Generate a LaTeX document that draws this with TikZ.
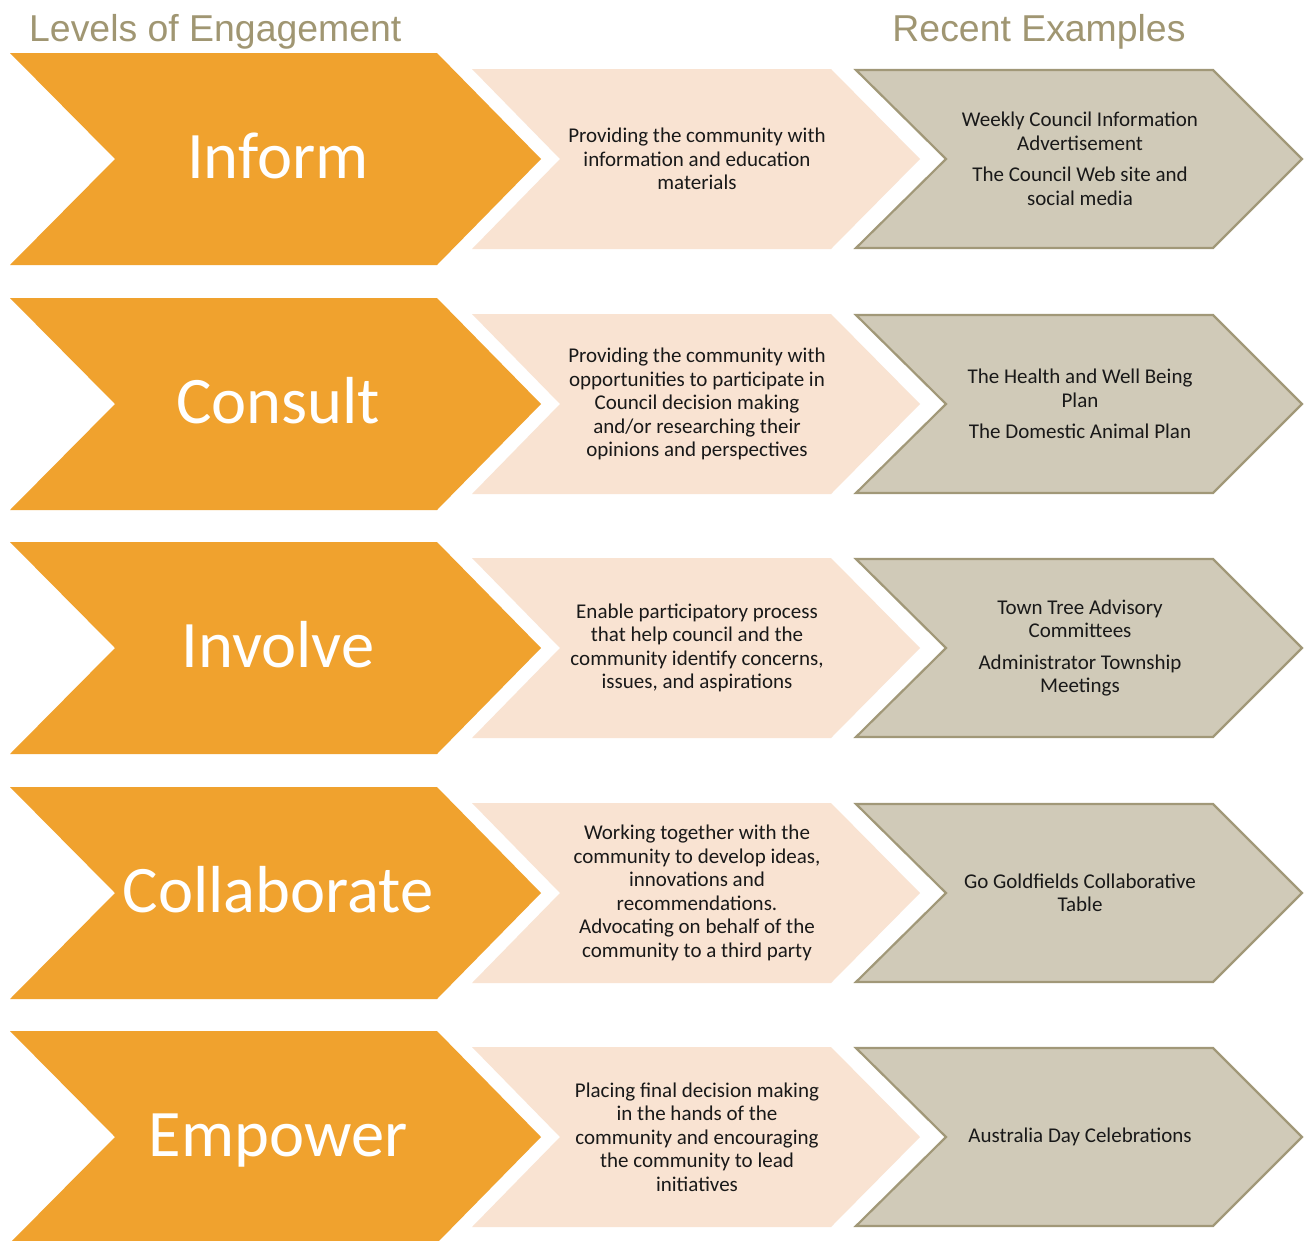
\documentclass[tikz,border=0pt]{standalone}
\usepackage{fontspec}
\setmainfont{Carlito}
\newfontfamily\arialfont{Liberation Sans}
\definecolor{orangeC}{HTML}{F0A22E}
\definecolor{pinkC}{HTML}{F9E3D2}
\definecolor{greyC}{HTML}{D0CAB8}
\definecolor{greyB}{HTML}{A19878}
\definecolor{titleC}{HTML}{A09672}
\begin{document}
\begin{tikzpicture}[x=1pt,y=-1pt,
  orangebox/.style={fill=orangeC,draw=none},
  pinkbox/.style={fill=pinkC,draw=none},
  greybox/.style={fill=greyC,draw=greyB,line width=2.2pt,line join=miter},
  bigtext/.style={text=white,font=\fontsize{66.5}{70}\selectfont,inner sep=0pt,anchor=base},
  bodytext/.style={text=black!90,align=center,font=\fontsize{21}{23.5}\selectfont,inner sep=0pt},
  headtext/.style={text=titleC,font=\arialfont\fontsize{37.4}{40}\selectfont,inner sep=0pt}]
\useasboundingbox (0,0) rectangle (1306,1240);
\fill[white] (0,0) rectangle (1306,1240);
\node[headtext,anchor=base west] (h1) at (29,41) {Levels of Engagement};
\node[headtext,anchor=base] (h2) at (1039,41) {Recent Examples};
\foreach \yc/\name/\pink/\grey [count=\i] in {
  159/Inform/{Providing the community with\\information and education\\materials}/{Weekly Council Information\\Advertisement\\[8pt]The Council Web site and\\social media},
  404/Consult/{Providing the community with\\opportunities to participate in\\Council decision making\\and/or researching their\\opinions and perspectives}/{The Health and Well Being\\Plan\\[8pt]The Domestic Animal Plan},
  648/Involve/{Enable participatory process\\that help council and the\\community identify concerns,\\issues, and aspirations}/{Town Tree Advisory\\Committees\\[8pt]Administrator Township\\Meetings},
  893/Collaborate/{Working together with the\\community to develop ideas,\\innovations and\\recommendations.\\Advocating on behalf of the\\community to a third party}/{Go Goldfields Collaborative\\Table},
  1137/Empower/{Placing final decision making\\in the hands of the\\community and encouraging\\the community to lead\\initiatives}/{Australia Day Celebrations}}
{
  \begin{scope}[shift={(0,\yc)}]
    \path[orangebox] (10,-106) -- (437,-106) -- (541,0) -- (437,106) -- (10,106) -- (115,0) -- cycle;
    \path[pinkbox] (472,-90) -- (831,-90) -- (920,0) -- (831,90) -- (472,90) -- (560,0) -- cycle;
    \path[greybox] (856,-89) -- (1213,-89) -- (1302,0) -- (1213,89) -- (856,89) -- (946,0) -- cycle;
    \node[bigtext] (lvl\i) at (278,19) {\name};
    \node[bodytext] (desc\i) at (697,0) {\pink};
    \node[bodytext] (ex\i) at (1080,0) {\grey};
  \end{scope}
}
\end{tikzpicture}
\end{document}
